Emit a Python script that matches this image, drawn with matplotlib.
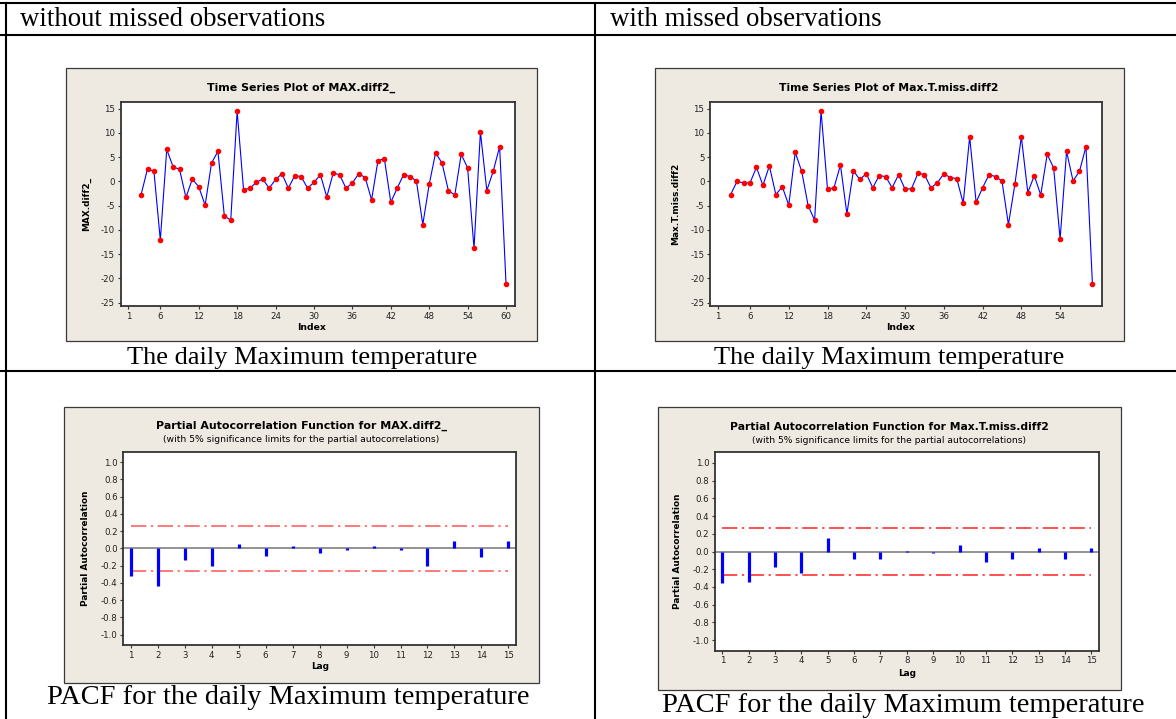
import matplotlib
matplotlib.use("Agg")
import matplotlib.pyplot as plt
from matplotlib.patches import Rectangle
import numpy as np

plt.rcParams["axes.unicode_minus"] = False

# ---------------- data ----------------
max_diff2 = [-2.7, 2.6, 2.1, -12.1, 6.6, 3.0, 2.5, -3.3, 0.5, -1.1, -4.9, 3.8, 6.2,
             -7.1, -8.0, 14.5, -1.7, -1.4, -0.2, 0.5, -1.4, 0.4, 1.6, -1.4, 1.2, 1.0,
             -1.4, -0.2, 1.4, -3.2, 1.7, 1.4, -1.4, -0.3, 1.6, 0.8, -3.8, 4.3, 4.7,
             -4.3, -1.4, 1.4, 1.0, 0.1, -8.9, -0.6, 5.9, 3.8, -1.9, -2.8, 5.6, 2.8,
             -13.8, 10.2, -1.9, 2.1, 7.2, -21.1]
max_miss_diff2 = [-2.7, 0.0, -0.3, -0.3, 2.9, -0.8, 3.2, -2.7, -1.1, -4.9, 6.0, 2.1,
                  -5.0, -8.0, 14.5, -1.6, -1.3, 3.4, -6.7, 2.2, 0.4, 1.6, -1.3, 1.2,
                  1.0, -1.3, 1.4, -1.6, -1.5, 1.7, 1.4, -1.3, -0.3, 1.6, 0.8, 0.6,
                  -4.5, 9.2, -4.3, -1.3, 1.4, 1.0, 0.1, -8.9, -0.6, 9.2, -2.3, 1.2,
                  -2.8, 5.6, 2.8, -11.9, 6.2, 0.1, 2.1, 7.2, -21.1]
first_index = 3

lags = list(range(1, 16))
pacf_max = [-0.32, -0.44, -0.13, -0.20, 0.05, -0.09, 0.03, -0.05, -0.02, 0.03,
            -0.02, -0.20, 0.09, -0.10, 0.09]
pacf_miss = [-0.36, -0.34, -0.17, -0.245, 0.155, -0.09, -0.08, 0.01, -0.02, 0.07,
             -0.12, -0.08, 0.04, -0.08, 0.045]
limit_max = 0.26
limit_miss = 0.267

ts_ticks_left = [1, 6, 12, 18, 24, 30, 36, 42, 48, 54, 60]
ts_ticks_right = [1, 6, 12, 18, 24, 30, 36, 42, 48, 54]
ts_yticks = [15, 10, 5, 0, -5, -10, -15, -20, -25]
pacf_yticks = [1.0, 0.8, 0.6, 0.4, 0.2, 0.0, -0.2, -0.4, -0.6, -0.8, -1.0]

header_left = "without missed observations"
header_right = "with missed observations"
caption_ts = "The daily Maximum temperature"
caption_pacf = "PACF for the daily Maximum temperature"

# ---------------- figure ----------------
W, H = 1176, 719
fig = plt.figure(figsize=(W / 100, H / 100), dpi=100)
fig.patch.set_facecolor("white")
renderer = fig.canvas.get_renderer()

bg = fig.add_axes([0, 0, 1, 1])
bg.set_xlim(0, W)
bg.set_ylim(H, 0)
bg.axis("off")

SERIF = "Liberation Serif"
SANS = "DejaVu Sans"
FRAME = "#EEEAE1"
EDGE = "#3a3a3a"


def fit(t, width_px):
    w = t.get_window_extent(renderer).width
    t.set_fontsize(t.get_fontsize() * width_px / w)
    return t


def rect(x0, y0, x1, y1):
    return [x0 / W, 1 - y1 / H, (x1 - x0) / W, (y1 - y0) / H]


# table rules
lw_tab = 1.5
bg.plot([0, W], [3, 3], color="black", lw=lw_tab)
bg.plot([0, W], [35, 35], color="black", lw=lw_tab)
bg.plot([0, W], [371, 371], color="black", lw=lw_tab)
bg.plot([6, 6], [3, H], color="black", lw=lw_tab)
bg.plot([595, 595], [3, H], color="black", lw=lw_tab)

# headers and captions
fit(bg.text(20, 20, header_left, family=SERIF, fontsize=19, va="center", ha="left"), 306)
bg.text(610, 20, header_right, family=SERIF, fontsize=19.4, va="center", ha="left")
fit(bg.text(302, 358, caption_ts, family=SERIF, fontsize=19, va="center",
            ha="center"), 351)
fit(bg.text(889, 358, caption_ts, family=SERIF, fontsize=19, va="center",
            ha="center"), 351)
fit(bg.text(288, 697, caption_pacf, family=SERIF, fontsize=19, va="center",
            ha="center"), 483)
fit(bg.text(903, 705, caption_pacf, family=SERIF, fontsize=19, va="center",
            ha="center"), 484)

# chart frames
frames = [(66, 68, 537, 341), (655, 68, 1124, 341),
          (64, 407, 539, 683), (658, 407, 1121, 690)]
for x0, y0, x1, y1 in frames:
    bg.add_patch(Rectangle((x0, y0), x1 - x0, y1 - y0, facecolor=FRAME,
                           edgecolor=EDGE, lw=0.9))


def style_axes(ax):
    ax.set_facecolor("white")
    for s in ax.spines.values():
        s.set_color("#333333")
        s.set_linewidth(1.3)
    ax.tick_params(direction="out", length=2.5, width=0.8, color="#333333",
                   labelsize=6.2, pad=1.5, labelcolor="#222222")
    for lab in ax.get_xticklabels() + ax.get_yticklabels():
        lab.set_family(SANS)


def ts_panel(box, xlim, xticks, values, title, ylabel, title_x, ylabel_x, title_w):
    ax = fig.add_axes(rect(*box))
    idx = np.arange(first_index, first_index + len(values))
    ax.plot(idx, values, color="#0000FF", lw=0.8, zorder=2)
    ax.plot(idx, values, "o", color="#FF0000", ms=3.0, mec="#FF0000", zorder=3)
    ax.set_xlim(*xlim)
    ax.set_ylim(-25.7, 16.45)
    ax.set_xticks(xticks)
    ax.set_yticks(ts_yticks)
    style_axes(ax)
    fit(bg.text(title_x, 88, title, family=SANS, weight="bold", fontsize=8,
                ha="center", va="center"), title_w)
    fit(bg.text((box[0] + box[2]) / 2 - 6, 327, "Index", family=SANS, weight="bold",
                fontsize=7, ha="center", va="center"), 29)
    bg.text(ylabel_x, (box[1] + box[3]) / 2, ylabel, family=SANS, weight="bold",
            fontsize=6.4, ha="center", va="center", rotation=90)
    return ax


ts_panel((120.7, 101.7, 515.3, 306), (-0.19, 61.45), ts_ticks_left, max_diff2,
         "Time Series Plot of MAX.diff2_", "MAX.diff2_", 301, 87, 188)
ts_panel((710, 101.7, 1102.3, 306), (-0.19, 60.53), ts_ticks_right, max_miss_diff2,
         "Time Series Plot of Max.T.miss.diff2", "Max.T.miss.diff2", 889, 676, 219)


def pacf_panel(box, xlim, values, limit, title, title_x, title_y, title_w, sub_w,
               lag_y, ylabel_x, limit_color):
    ax = fig.add_axes(rect(*box))
    ax.axhline(0, color="#8a8a8a", lw=1.3, zorder=1)
    ax.vlines(lags, 0, values, color="#0000FF", lw=2.3, zorder=3)
    for lv in (limit, -limit):
        ax.plot([lags[0], lags[-1]], [lv, lv], color=limit_color, lw=1.1,
                linestyle=(0, (10, 3, 1.5, 3)), zorder=2)
    ax.set_xlim(*xlim)
    ax.set_ylim(-1.12, 1.12)
    ax.set_xticks(lags)
    ax.set_yticks(pacf_yticks)
    ax.set_yticklabels([f"{v:.1f}" for v in pacf_yticks])
    style_axes(ax)
    fit(bg.text(title_x, title_y, title, family=SANS, weight="bold", fontsize=8,
                ha="center", va="center"), title_w)
    fit(bg.text(title_x, title_y + 13.5,
                "(with 5% significance limits for the partial autocorrelations)",
                family=SANS, fontsize=6, ha="center", va="center"), sub_w)
    fit(bg.text((box[0] + box[2]) / 2, lag_y, "Lag", family=SANS, weight="bold",
                fontsize=7, ha="center", va="center"), 18)
    bg.text(ylabel_x, (box[1] + box[3]) / 2, "Partial Autocorrelation",
            family=SANS, weight="bold", fontsize=6.4, ha="center", va="center",
            rotation=90)
    return ax


pacf_panel((123.3, 451.7, 516, 645), (0.726, 15.28), pacf_max, limit_max,
           "Partial Autocorrelation Function for MAX.diff2_", 301, 426, 291, 280,
           666.5, 85, "#FF5555")
pacf_panel((715, 452.3, 1099.3, 650.7), (0.723, 15.30), pacf_miss, limit_miss,
           "Partial Autocorrelation Function for Max.T.miss.diff2", 889, 427, 318, 274,
           674, 678, "#FF2222")

fig.savefig("out.png", dpi=100, facecolor="white")
